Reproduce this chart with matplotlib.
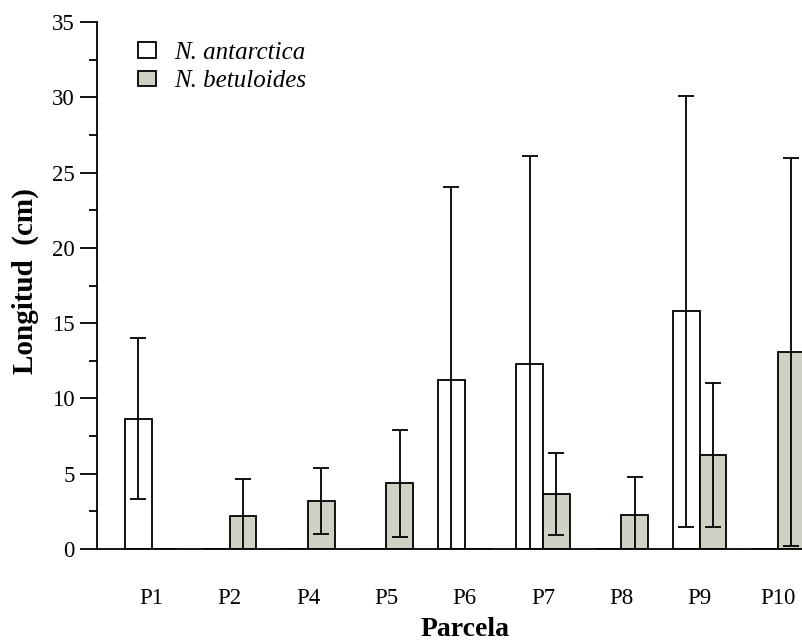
import matplotlib
matplotlib.use("Agg")
import matplotlib.pyplot as plt
import numpy as np
from matplotlib.patches import Patch

parcelas = ["P1", "P2", "P4", "P5", "P6", "P7", "P8", "P9", "P10"]
antarctica_mean = [8.65, 0, 0, 0, 11.23, 12.29, 0, 15.81, 0]
antarctica_sd = [5.35, 0, 0, 0, 12.8, 13.84, 0, 14.32, 0]
betuloides_mean = [0, 2.17, 3.21, 4.37, 0, 3.65, 2.28, 6.25, 13.09]
betuloides_sd = [0, 2.48, 2.19, 3.55, 0, 2.7, 2.5, 4.8, 12.9]

plt.rcParams['font.family'] = ['Liberation Serif', 'DejaVu Serif']

fig = plt.figure(figsize=(8.02, 6.44), dpi=100)
ax = fig.add_axes([0.121, 0.1475, 0.879, 0.818])

x = np.arange(len(parcelas))
w = 0.34
gris = '#d0d0c4'

ax.bar(x - w / 2, antarctica_mean, width=w, color='white', edgecolor='black',
       linewidth=1.3, zorder=2)
ax.bar(x + w / 2, betuloides_mean, width=w, color=gris, edgecolor='black',
       linewidth=1.3, zorder=2)

# solo las barras con desviacion
for xs, m, s in [(x - w / 2, antarctica_mean, antarctica_sd),
                 (x + w / 2, betuloides_mean, betuloides_sd)]:
    m = np.array(m)
    s = np.array(s)
    ok = s > 0
    ax.errorbar(xs[ok], m[ok], yerr=s[ok], fmt='none', ecolor='black',
                elinewidth=1.3, capsize=6, capthick=1.3, zorder=3)

ax.set_xlim(-0.696, 8.307)
ax.set_ylim(0, 35)
ax.set_xticks(x)
ax.set_xticklabels(parcelas)
ax.set_yticks(np.arange(0, 36, 5))
ax.set_yticks(np.arange(2.5, 35, 5), minor=True)
ax.tick_params(axis='x', length=0, pad=28, labelsize=16.5)
ax.tick_params(axis='y', which='major', length=12, width=1.3, labelsize=16.5,
               direction='out', pad=4)
ax.tick_params(axis='y', which='minor', length=6, width=1.3, direction='out')
for side in ['top', 'right']:
    ax.spines[side].set_visible(False)
ax.spines['left'].set_linewidth(1.3)
ax.spines['bottom'].set_linewidth(1.3)

ax.set_xlabel('Parcela', fontsize=20, fontweight='bold')
ax.xaxis.set_label_coords(0.522, -0.129)
ax.set_ylabel('Longitud  (cm)', fontsize=21, fontweight='bold')
ax.yaxis.set_label_coords(-0.082, 0.508)

handles = [Patch(facecolor='white', edgecolor='black', linewidth=1.3),
           Patch(facecolor=gris, edgecolor='black', linewidth=1.3)]
ax.legend(handles, ['N. antarctica', 'N. betuloides'], loc='upper left',
          bbox_to_anchor=(0.0265, 1.005), frameon=False,
          prop={'style': 'italic', 'size': 18}, handlelength=0.7,
          handleheight=0.6, handletextpad=0.75, labelspacing=0.25)

fig.savefig('out.png', dpi=100)
